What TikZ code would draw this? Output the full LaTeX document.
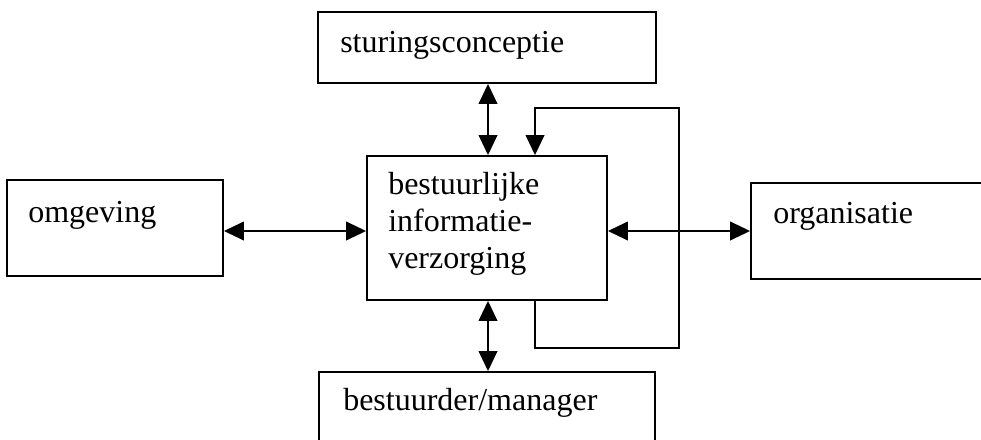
\documentclass[tikz,border=0pt]{standalone}
\usepackage{fontspec}
\setmainfont{Liberation Serif}
\usetikzlibrary{arrows.meta,fit}
\tikzset{
  box/.style={draw, line width=1.4pt, inner sep=0pt},
  lbl/.style={inner sep=0pt, font=\fontsize{24pt}{27.4pt}\selectfont, anchor=base west},
  link/.style={line width=1.4pt, {Triangle[length=15pt,width=14pt]}-{Triangle[length=15pt,width=14pt]}},
  feed/.style={line width=1.4pt, -{Triangle[length=15pt,width=14pt]}},
}
\begin{document}
\begin{tikzpicture}[x=0.75pt,y=-0.75pt]
  \useasboundingbox (0,0) rectangle (981,439);
  \clip (0,0) rectangle (981,439);
  % boxes
  \node[box, fit={(318,12) (656,83)}] (sturing) {};
  \node[box, fit={(7,180) (223,276)}] (omgeving) {};
  \node[box, fit={(367,156) (607,300)}] (biv) {};
  \node[box, fit={(751,183) (1000,279)}] (organisatie) {};
  \node[box, fit={(319,372) (655,470)}] (bestuurder) {};
  % labels (multi-line label is anchored on its last baseline)
  \node[lbl] (tsturing) at (340,52) {sturingsconceptie};
  \node[lbl] (tomgeving) at (28,222) {omgeving};
  \node[lbl, align=left] (tbiv) at (388,268) {bestuurlijke\\informatie-\\verzorging};
  \node[lbl] (torganisatie) at (773,223) {organisatie};
  \node[lbl] (tbestuurder) at (343,410) {bestuurder/manager};
  % helper coordinates
  \coordinate (hy) at (0,231);
  \coordinate (vx) at (488,0);
  \coordinate (lx) at (535,0);
  \coordinate (lb) at (679,348);
  \coordinate (lt) at (679,108);
  % connectors
  \draw[link] (sturing.south -| vx) -- (biv.north -| vx);
  \draw[link] (omgeving.east |- hy) -- (biv.west |- hy);
  \draw[link] (biv.east |- hy) -- (organisatie.west |- hy);
  \draw[link] (biv.south -| vx) -- (bestuurder.north -| vx);
  \draw[feed] (biv.south -| lx) |- (lb) -- (lt) -| (biv.north -| lx);
\end{tikzpicture}
\end{document}
